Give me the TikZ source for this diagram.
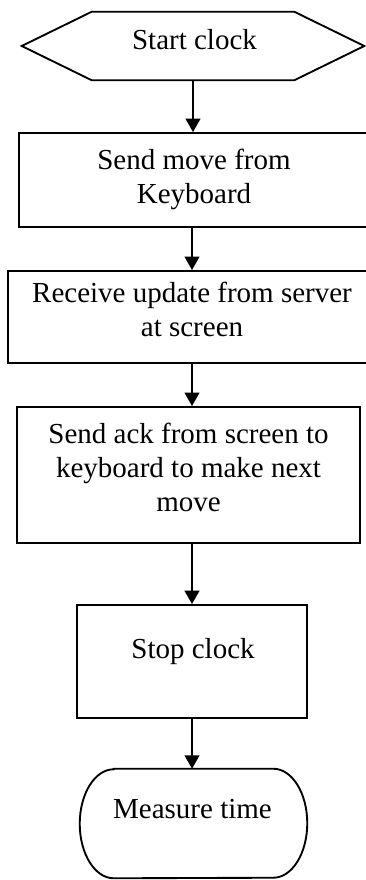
\documentclass[tikz,border=0pt]{standalone}
\usepackage{fontspec}
\setmainfont{Liberation Serif}
\usetikzlibrary{arrows.meta,calc}
\begin{document}
\begin{tikzpicture}[x=0.75pt,y=-0.75pt,
  box/.style={draw,line width=1.4pt,inner sep=0pt,rectangle},
  frame/.style={inner sep=0pt,rectangle},
  outline/.style={draw,line width=1.4pt,line join=miter},
  lbl/.style={inner sep=0pt,align=center,font=\fontsize{21.75pt}{25.5pt}\selectfont},
  arr/.style={line width=1.4pt,-{Triangle[width=11pt,length=10pt]}}]
\useasboundingbox (0,0) rectangle (366,880);
\clip (0,0) rectangle (366,880);
\fill[white] (0,0) rectangle (366,880);
% shapes
\node[frame,minimum width=202*0.75pt,minimum height=68*0.75pt] (hex) at (193,46) {};
\draw[outline] (hex.north west) -- (hex.north east) -- ($(hex.east)+(70,0)$) -- (hex.south east) -- (hex.south west) -- ($(hex.west)+(-70,0)$) -- cycle;
\node[box,minimum width=348*0.75pt,minimum height=94*0.75pt] (b1) at (193,180) {};
\node[box,minimum width=368*0.75pt,minimum height=92*0.75pt] (b2) at (192,317) {};
\node[box,minimum width=343*0.75pt,minimum height=136*0.75pt] (b3) at (188.5,475) {};
\node[box,minimum width=230*0.75pt,minimum height=113*0.75pt] (stop) at (192,661.5) {};
\node[frame,minimum width=227*0.75pt,minimum height=109*0.75pt] (meas) at (193.5,823.5) {};
\draw[outline] ($(meas.north west)+(34,0)$) -- ($(meas.north east)+(-34,0)$)
  arc[start angle=90,end angle=-90,x radius=25.5pt,y radius=40.875pt]
  -- ($(meas.south west)+(34,0)$)
  arc[start angle=270,end angle=90,x radius=25.5pt,y radius=40.875pt] -- cycle;
% texts
\node[lbl,anchor=base] (t0) at (194.5,50) {Start clock};
\node[lbl,anchor=north] (t1) at (194,149) {Send move from\\Keyboard};
\node[lbl,anchor=north] (t2) at (192,282) {Receive update from server\\at screen};
\node[lbl,anchor=north] (t3) at (188.5,423) {Send ack from screen to\\keyboard to make next\\move};
\node[lbl,anchor=base] (t4) at (193,658) {Stop clock};
\node[lbl,anchor=base] (t5) at (192.5,818) {Measure time};
% connectors
\draw[arr] (hex.south) -- (b1.north);
\draw[arr] (b1.south -| b2.north) -- (b2.north);
\draw[arr] (b2.south) -- (b2.south |- b3.north);
\draw[arr] (stop.north |- b3.south) -- (stop.north);
\draw[arr] (stop.south) -- (stop.south |- meas.north);
\end{tikzpicture}
\end{document}
